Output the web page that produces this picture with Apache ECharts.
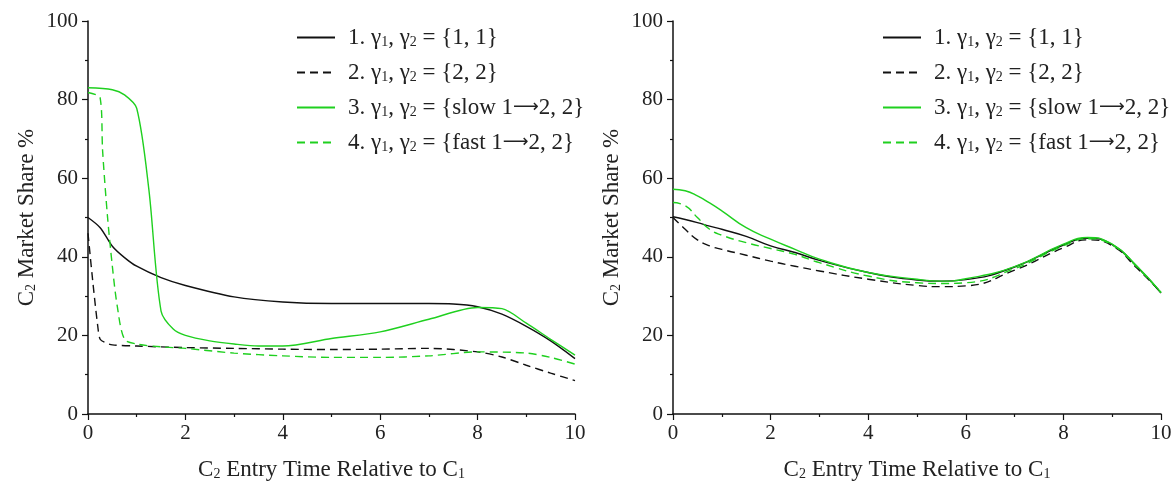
<!DOCTYPE html>
<html>
<head>
<meta charset="utf-8">
<script src="https://cdn.jsdelivr.net/npm/echarts@6/dist/echarts.min.js"></script>
<style>
  html, body { margin: 0; padding: 0; background: #fff; }
  #chart { width: 1176px; height: 493px; }
</style>
</head>
<body>
<div id="chart"></div>
<script>
// legend names (shared by both panels)
const names = [
  '1. γ{sub|1}, γ{sub|2} = {1, 1}',
  '2. γ{sub|1}, γ{sub|2} = {2, 2}',
  '3. γ{sub|1}, γ{sub|2} = {slow 1{arr|⟶}2, 2}',
  '4. γ{sub|1}, γ{sub|2} = {fast 1{arr|⟶}2, 2}'
]

// left panel
const leftX1 = [0, 0.25, 0.5, 0.75, 1, 1.5, 2, 3, 4, 5, 6, 7, 7.5, 8, 8.5, 9, 9.5, 10]
const leftY1 = [50, 47.4, 42.7, 39.8, 37.6, 34.7, 32.7, 29.8, 28.5, 28.1, 28.1, 28.1, 28, 27.3, 25.4, 22.3, 18.6, 14.1]
const leftX2 = [0, 0.1, 0.2, 0.25, 0.35, 0.5, 1, 2, 3, 4, 5, 6, 7, 8, 8.5, 9, 9.5, 10]
const leftY2 = [46, 33.5, 22.4, 19, 18.2, 17.6, 17.3, 16.9, 16.7, 16.5, 16.4, 16.5, 16.7, 15.8, 14.5, 12.4, 10.4, 8.5]
const leftX3 = [0, 0.5, 0.75, 1, 1.25, 1.5, 1.75, 2, 2.5, 3, 3.5, 4, 5, 6, 7, 8, 8.5, 9, 9.5, 10]
const leftY3 = [83, 82.5, 81.2, 77.8, 57.1, 26.2, 21.6, 20, 18.6, 17.8, 17.3, 17.3, 19.2, 20.9, 24.1, 27.1, 26.8, 23.1, 19, 15]
const leftX4 = [0, 0.25, 0.3, 0.4, 0.5, 0.6, 0.75, 1, 1.5, 2, 3, 4, 5, 6, 7, 8, 9, 9.5, 10]
const leftY4 = [81.8, 80.4, 67, 50.3, 37.6, 27.5, 19, 17.8, 17.1, 16.7, 15.5, 14.8, 14.4, 14.4, 14.8, 15.8, 15.5, 14.4, 12.7]

// right panel
const rightX = [0, 0.25, 0.5, 0.75, 1, 1.5, 2, 2.5, 3, 4, 5, 5.5, 6, 7, 8, 8.5, 9, 9.5, 10]
const rightY1 = [50.2, 49.5, 48.7, 47.8, 47, 45.2, 42.8, 41.1, 39.1, 36, 34.1, 33.8, 34.2, 37.4, 43, 44.7, 43.1, 37.6, 30.8]
const rightY2 = [50, 47, 44.3, 42.8, 41.9, 40.4, 38.9, 37.6, 36.4, 34.3, 32.7, 32.4, 32.6, 36.6, 42.3, 44.3, 42.8, 37.2, 30.9]
const rightY3 = [57.2, 56.8, 55.5, 53.7, 51.7, 47.4, 44.5, 41.9, 39.4, 36, 34.3, 33.8, 34.4, 37.5, 43.2, 44.9, 43.2, 37.7, 30.9]
const rightY4 = [53.8, 53, 50, 47, 45.5, 43.6, 42.1, 40.6, 38.5, 35.1, 33.4, 33.2, 33.4, 37, 42.8, 44.6, 43, 37.5, 30.9]

const BLACK = '#111111'
const GREEN = '#1fd01f'
const FONT = '"Liberation Serif", "DejaVu Serif", serif'
const TEXT = '#222'

function zip(xs, ys) {
  return xs.map((x, i) => [x, ys[i]])
}

const styles = [
  { color: BLACK, type: 'solid' },
  { color: BLACK, type: [8, 5] },
  { color: GREEN, type: 'solid' },
  { color: GREEN, type: [8, 5] }
]

const leftData = [zip(leftX1, leftY1), zip(leftX2, leftY2), zip(leftX3, leftY3), zip(leftX4, leftY4)]
const rightData = [zip(rightX, rightY1), zip(rightX, rightY2), zip(rightX, rightY3), zip(rightX, rightY4)]

const richText = {
  sub: { fontSize: 14, fontFamily: FONT, color: TEXT, verticalAlign: 'bottom', padding: [9, 0, 0, 0] },
  arr: { fontSize: 18, fontFamily: '"DejaVu Sans", sans-serif', color: TEXT }
}

function makeSeries(data, idx, smooth) {
  return data.map((d, i) => ({
    name: names[i],
    type: 'line',
    xAxisIndex: idx,
    yAxisIndex: idx,
    data: d,
    symbol: 'none',
    smooth: smooth,
    animation: false,
    lineStyle: { color: styles[i].color, type: styles[i].type, width: 1.4 },
    itemStyle: { color: styles[i].color }
  }))
}

const tickStyle = { color: BLACK, width: 1.2 }

function xAxis(idx) {
  return {
    type: 'value',
    gridIndex: idx,
    min: 0, max: 10, interval: 2,
    name: 'C{sub|2} Entry Time Relative to C{sub|1}',
    nameLocation: 'middle',
    nameGap: 44,
    nameTextStyle: { fontSize: 23, fontFamily: FONT, color: TEXT, rich: richText },
    axisLine: { show: true, onZero: false, lineStyle: { color: BLACK, width: 1.5 } },
    axisTick: { show: true, inside: false, length: 6, lineStyle: tickStyle },
    minorTick: { show: true, splitNumber: 2, length: 3, lineStyle: tickStyle },
    axisLabel: { fontSize: 21, fontFamily: FONT, color: TEXT, margin: 9 },
    splitLine: { show: false }
  }
}

function yAxis(idx) {
  return {
    type: 'value',
    gridIndex: idx,
    min: 0, max: 100, interval: 20,
    name: 'C{sub|2} Market Share %',
    nameLocation: 'middle',
    nameGap: 50,
    nameTextStyle: { fontSize: 23, fontFamily: FONT, color: TEXT, rich: richText },
    axisLine: { show: true, onZero: false, lineStyle: { color: BLACK, width: 1.5 } },
    axisTick: { show: true, inside: false, length: 6, lineStyle: tickStyle },
    minorTick: { show: true, splitNumber: 2, length: 3, lineStyle: tickStyle },
    axisLabel: { fontSize: 21, fontFamily: FONT, color: TEXT, margin: 10 },
    splitLine: { show: false }
  }
}

function legend(left) {
  return {
    data: names,
    orient: 'vertical',
    left: left,
    top: 21,
    itemWidth: 38,
    itemHeight: 14,
    itemGap: 12,
    itemStyle: { opacity: 0 },
    textStyle: { fontSize: 23, fontFamily: FONT, color: TEXT, rich: richText, padding: [0, 0, 0, 8] },
    selectedMode: false
  }
}

const chart = echarts.init(document.getElementById('chart'))
chart.setOption({
  backgroundColor: '#fff',
  animation: false,
  legend: [legend(291), legend(877)],
  grid: [
    { left: 88, top: 21, width: 487, height: 393 },
    { left: 673, top: 21, width: 488, height: 393 }
  ],
  xAxis: [xAxis(0), xAxis(1)],
  yAxis: [yAxis(0), yAxis(1)],
  series: [...makeSeries(leftData, 0, 0.3), ...makeSeries(rightData, 1, true)]
})
</script>
</body>
</html>
